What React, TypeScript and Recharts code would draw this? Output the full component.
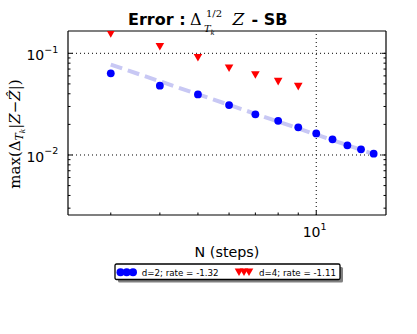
import React from "react";
import {
  ComposedChart,
  XAxis,
  YAxis,
  Scatter,
  Line,
  ReferenceLine,
  Legend,
} from "recharts";

// N (steps) and max error for each dimension
const N_D2 = [3, 4, 5, 6, 7, 8, 9, 10, 11, 12, 13, 14];
const ERR_D2 = [
  0.0636, 0.048, 0.0394, 0.031, 0.0251, 0.0217, 0.0187, 0.0163, 0.01425,
  0.01245, 0.01137, 0.0103,
];
const N_D4 = [3, 4, 5, 6, 7, 8, 9];
const ERR_D4 = [0.155, 0.116, 0.0905, 0.0713, 0.0612, 0.0527, 0.047];

// fitted rate line for d=2
const FIT_N = [3, 14];
const FIT_ERR = [0.0775, 0.0102];

const SERIES_NAMES = ["d=2; rate = -1.32", "d=4; rate = -1.11"];

const X_DOMAIN = [2.335, 15.05];
const Y_DOMAIN = [0.00257, 0.1657];
const X_TICKS = [3, 4, 5, 6, 7, 8, 9, 10];
const X_MAJOR = [10];
const Y_TICKS = [
  0.003, 0.004, 0.005, 0.006, 0.007, 0.008, 0.009, 0.01, 0.02, 0.03, 0.04,
  0.05, 0.06, 0.07, 0.08, 0.09, 0.1,
];
const Y_MAJOR = [0.01, 0.1];

const BLUE = "#0000ff";
const RED = "#ff0000";
const FIT = "#c8c8f4";
const SANS = "DejaVu Sans";
const SERIF = "DejaVu Serif";

const toRows = (xs: number[], ys: number[]) =>
  xs.map((n, i) => ({ n, err: ys[i] }));

const d2Data = toRows(N_D2, ERR_D2);
const d4Data = toRows(N_D4, ERR_D4);
const fitData = toRows(FIT_N, FIT_ERR);

const isMajor = (list: number[], v: number) =>
  list.some((m) => Math.abs(m - v) < 1e-9);

const expText = (v: number) => {
  const e = Math.round(Math.log10(v));
  return e < 0 ? "\u2212" + Math.abs(e) : String(e);
};

const triPath = (cx: number, cy: number) =>
  `M${cx - 4.3},${cy - 3.8}L${cx + 4.3},${cy - 3.8}L${cx},${cy + 3.8}Z`;

const BottomTick = (props: any) => {
  const { x, y, payload } = props;
  const major = isMajor(X_MAJOR, payload.value);
  return (
    <g>
      <line x1={x} y1={y} x2={x} y2={y - (major ? 4.5 : 2.5)} stroke="#000" />
      {major && (
        <text x={x - 1.6} y={y + 21.7} textAnchor="middle" fontFamily={SANS} fill="#000">
          <tspan fontSize={14}>10</tspan>
          <tspan fontSize={9.5} dy={-6.8}>
            {expText(payload.value)}
          </tspan>
        </text>
      )}
    </g>
  );
};

// top axis sits 1px above the plot, so marks start at y + 1
const TopTick = (props: any) => {
  const { x, y, payload } = props;
  const major = isMajor(X_MAJOR, payload.value);
  return <line x1={x} y1={y} x2={x} y2={y + (major ? 4.5 : 2.5)} stroke="#000" />;
};

const LeftTick = (props: any) => {
  const { x, y, payload } = props;
  const major = isMajor(Y_MAJOR, payload.value);
  return (
    <g>
      <line x1={x} y1={y} x2={x + (major ? 4.5 : 2.5)} y2={y} stroke="#000" />
      {major && (
        <text x={x - 9.7} y={y + 6.7} textAnchor="end" fontFamily={SANS} fill="#000">
          <tspan fontSize={14}>10</tspan>
          <tspan fontSize={9.5} dy={-7.2}>
            {expText(payload.value)}
          </tspan>
        </text>
      )}
    </g>
  );
};

const RightTick = (props: any) => {
  const { x, y, payload } = props;
  const major = isMajor(Y_MAJOR, payload.value);
  return <line x1={x} y1={y} x2={x - (major ? 4.5 : 2.5)} y2={y} stroke="#000" />;
};

const Dot = (p: any) => <circle cx={p.cx} cy={p.cy} r={3.9} fill={BLUE} />;
const Tri = (p: any) => <path d={triPath(p.cx, p.cy)} fill={RED} />;

const XLabel = (props: any) => {
  const vb = props.viewBox;
  return (
    <text x={vb.x + vb.width / 2} y={vb.y + 41.7} textAnchor="middle" fontFamily={SANS} fontSize={14.3} fill="#000">
      N (steps)
    </text>
  );
};

const YLabel = (props: any) => {
  const vb = props.viewBox;
  const cy = vb.y + vb.height / 2 + 11;
  return (
    <text
      transform={`translate(19.5,${cy}) rotate(-90)`}
      textAnchor="middle"
      fontFamily={SERIF}
      fontSize={15}
      fill="#000"
    >
      <tspan>max(Δ</tspan>
      <tspan fontSize={10.5} fontStyle="italic" dy={3.5}>T</tspan>
      <tspan fontSize={7.5} fontStyle="italic" dy={2}>k</tspan>
      <tspan dy={-5.5}>|</tspan>
      <tspan fontStyle="italic">Z</tspan>
      <tspan>−</tspan>
      <tspan fontStyle="italic">Ẑ</tspan>
      <tspan>|)</tspan>
    </text>
  );
};

const LegendBox = (props: any) => {
  const payload = props.payload ?? [];
  const names = payload.length >= 2 ? payload.map((p: any) => p.value) : SERIES_NAMES;
  return (
    <svg width={232} height={22} style={{ display: "block" }}>
      <rect x={4} y={4} width={225} height={15.5} rx={1.5} fill="#808080" />
      <rect x={1} y={1} width={225} height={15.5} rx={1.5} fill="#fff" stroke="#000" strokeWidth={1.3} />
      {[6.5, 12.7, 19].map((cx) => (
        <circle key={cx} cx={cx} cy={9.3} r={4} fill={BLUE} />
      ))}
      <text x={27.7} y={12.6} fontSize={8.7} fontFamily={SANS} fill="#000">
        {names[0]}
      </text>
      {[125, 130, 135].map((cx) => (
        <path key={cx} d={triPath(cx, 9.3)} fill={RED} />
      ))}
      <text x={145} y={12.6} fontSize={8.7} fontFamily={SANS} fill="#000">
        {names[1]}
      </text>
    </svg>
  );
};

const Title = () => (
  <svg width={417} height={40} style={{ position: "absolute", left: 0, top: 0, pointerEvents: "none" }}>
    <text x={128} y={25} fontFamily={SANS} fontWeight="bold" fontSize={16} fill="#000">
      Error :
    </text>
    <text x={190} y={25} fontFamily={SERIF} fontSize={16} fill="#000">
      Δ
    </text>
    <text x={206} y={16.5} fontFamily={SERIF} fontSize={10} fill="#000">
      1/2
    </text>
    <text x={204} y={32} fontFamily={SERIF} fontStyle="italic" fontSize={10} fill="#000">
      T
    </text>
    <text x={210.5} y={34.5} fontFamily={SERIF} fontStyle="italic" fontSize={7} fill="#000">
      k
    </text>
    <text x={232.5} y={25} fontFamily={SERIF} fontStyle="italic" fontSize={17} fill="#000">
      Z
    </text>
    <text x={251.5} y={25} fontFamily={SANS} fontWeight="bold" fontSize={16} fill="#000">
      - SB
    </text>
  </svg>
);

export default function App() {
  const frame = { stroke: "#000", strokeWidth: 1.2 };
  return (
    <div style={{ position: "absolute", left: 0, top: 0, width: 417, height: 334, background: "#fff" }}>
      <ComposedChart width={417} height={334} margin={{ top: 30, right: 30, bottom: 0, left: 0 }}>
        <XAxis
          dataKey="n"
          type="number"
          scale="log"
          domain={X_DOMAIN}
          allowDataOverflow
          ticks={X_TICKS}
          interval={0}
          tick={BottomTick}
          tickLine={false}
          tickSize={0}
          tickMargin={0}
          axisLine={frame}
          height={119}
          label={<XLabel />}
        />
        <XAxis
          xAxisId="top"
          orientation="top"
          type="number"
          scale="log"
          domain={X_DOMAIN}
          allowDataOverflow
          ticks={X_TICKS}
          interval={0}
          tick={TopTick}
          tickLine={false}
          tickSize={0}
          tickMargin={0}
          axisLine={false}
          height={1}
        />
        <YAxis
          dataKey="err"
          type="number"
          scale="log"
          domain={Y_DOMAIN}
          allowDataOverflow
          ticks={Y_TICKS}
          interval={0}
          tick={LeftTick}
          tickLine={false}
          tickSize={0}
          tickMargin={0}
          axisLine={frame}
          width={68}
          label={<YLabel />}
        />
        <YAxis
          yAxisId="right"
          orientation="right"
          type="number"
          scale="log"
          domain={Y_DOMAIN}
          allowDataOverflow
          ticks={Y_TICKS}
          interval={0}
          tick={RightTick}
          tickLine={false}
          tickSize={0}
          tickMargin={0}
          axisLine={false}
          width={1}
        />
        <ReferenceLine y={0.1} stroke="#000" strokeDasharray="1 3" />
        <ReferenceLine y={0.01} stroke="#000" strokeDasharray="1 3" />
        <ReferenceLine x={10} stroke="#000" strokeDasharray="1 3" />
        <ReferenceLine y={Y_DOMAIN[1]} stroke="#000" strokeWidth={1.2} />
        <ReferenceLine x={X_DOMAIN[1]} stroke="#000" strokeWidth={1.2} />
        <Line
          data={fitData}
          dataKey="err"
          stroke={FIT}
          strokeWidth={4}
          strokeDasharray="12 6"
          dot={false}
          legendType="none"
          isAnimationActive={false}
        />
        <Scatter name={SERIES_NAMES[0]} data={d2Data} dataKey="err" fill={BLUE} shape={Dot} isAnimationActive={false} />
        <Scatter name={SERIES_NAMES[1]} data={d4Data} dataKey="err" fill={RED} shape={Tri} isAnimationActive={false} />
        <Legend
          layout="horizontal"
          align="center"
          verticalAlign="middle"
          content={<LegendBox />}
          wrapperStyle={{ left: 114, top: 263, width: 232, height: 22, lineHeight: 0 }}
        />
      </ComposedChart>
      <Title />
    </div>
  );
}
